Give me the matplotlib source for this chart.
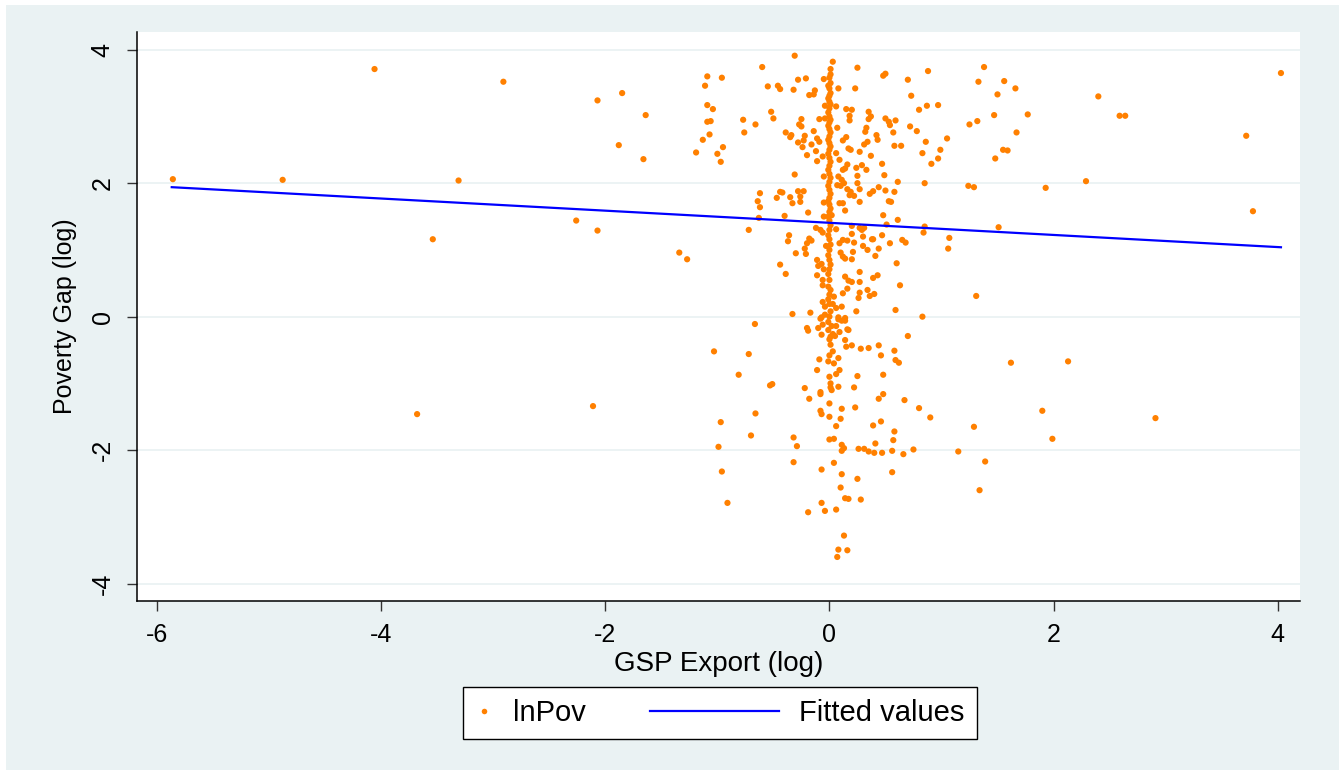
import numpy as np
import matplotlib
matplotlib.use("Agg")
import matplotlib.pyplot as plt
from matplotlib.lines import Line2D
from matplotlib.legend_handler import HandlerLine2D
from matplotlib.patches import Rectangle

plt.rcParams['font.family'] = ['Liberation Sans', 'DejaVu Sans']
plt.rcParams['axes.unicode_minus'] = False

# points, grouped by region (x = GSP export, y = poverty gap)
far_left_x = [-5.86, -4.88, -4.06, -2.91, -3.31, -3.54, -3.68, -1.85, -2.07, -1.64, -1.88, -1.66, -2.26, -2.07, -2.11]
far_left_y = [2.06, 2.05, 3.71, 3.52, 2.04, 1.16, -1.46, 3.35, 3.24, 3.02, 2.57, 2.36, 1.44, 1.29, -1.34]

mid_left_x = [-0.60, -1.09, -0.96, -1.11, -0.55, -0.46, -1.09, -1.04, -0.52, -0.50, -0.77, -0.66, -1.09, -1.06,
              -1.07, -1.13, -0.76, -0.95, -1.19, -1.00, -0.97, -0.62, -0.47, -0.64, -0.62, -0.63, -0.72, -1.34,
              -1.27, -0.44, -0.44, -0.665, -1.03, -0.72, -0.81, -0.53, -0.51, -0.66, -0.97, -0.70, -0.99, -0.96,
              -0.91, -0.44, -0.42, -0.39, -0.35, -0.34, -0.35, -0.40, -0.36, -0.37, -0.39]
mid_left_y = [3.74, 3.60, 3.58, 3.46, 3.45, 3.46, 3.17, 3.11, 3.07, 2.97, 2.95, 2.88, 2.92, 2.93,
              2.73, 2.65, 2.76, 2.54, 2.46, 2.44, 2.32, 1.85, 1.78, 1.73, 1.64, 1.48, 1.30, 0.96,
              0.86, 0.78, 1.87, -0.11, -0.52, -0.56, -0.87, -1.03, -1.01, -1.45, -1.58, -1.78, -1.95, -2.32,
              -2.79, 3.41, 1.86, 2.76, 2.69, 2.72, 1.79, 1.51, 1.22, 1.13, 0.64]

center_up_x = [-0.31, 0.03, 0.25, 0.01, 0.01, 0.50, 0.48, -0.28, -0.21, -0.05, -0.32, 0.08, 0.23, -0.13, -0.14,
               -0.18, -0.04, 0.06, 0.15, 0.20, 0.18, 0.18, 0.35, 0.37, 0.35, 0.50, 0.53, -0.25, -0.27, -0.25,
               -0.09, -0.04, 0.33, 0.32, -0.22, -0.23, -0.14, -0.11, -0.09, 0.07, 0.15, 0.12, 0.42, 0.43, -0.28,
               -0.24, -0.16, -0.12, 0.17, 0.19, 0.31, 0.34, 0.27, 0.37, -0.20, -0.11, -0.06, 0.06, 0.09, 0.47,
               0.16, 0.12, 0.14, 0.24, 0.29, 0.33, 0.25, 0.49, -0.31, -0.05, 0.08, 0.11, 0.13, 0.10, 0.07,
               0.25, 0.16, 0.19, 0.22, 0.18, 0.27, 0.27, 0.36, 0.39, 0.44, 0.50, 0.53, -0.28, -0.23, -0.26,
               -0.33, -0.26, -0.05, 0.09, 0.12, 0.14, -0.19, -0.05, 0.02, 0.48, 0.20, 0.27, 0.31, 0.29, 0.51,
               -0.12, -0.08, -0.06, 0.06, 0.20, 0.30, 0.38, 0.47, -0.18, -0.20, -0.16, -0.22, -0.21, -0.03,
               0.09, 0.12, 0.16, 0.10, 0.12, 0.14, 0.20, 0.22, 0.30, 0.21, 0.34, 0.44, 0.41, 0.39, -0.30,
               -0.11, -0.07, -0.05, -0.10, 0.27, 0.27, 0.20, 0.17, 0.43, 0.39, -0.11, 0.14, 0.16, 0.12, -0.06,
               -0.06, -0.01, 0.27, 0.26, 0.34, 0.36, 0.40, 0.04, -0.06, -0.04, 0.03, 0.06, 0.11, 0.24, -0.33,
               -0.17, -0.07, 0.08, 0.14]
center_up_y = [3.91, 3.82, 3.73, 3.71, 3.63, 3.64, 3.61, 3.55, 3.57, 3.56, 3.40, 3.42, 3.42, 3.39, 3.33,
               3.32, 3.16, 3.15, 3.11, 3.10, 3.01, 2.94, 3.07, 3.00, 2.96, 2.97, 2.92, 2.96, 2.88, 2.85,
               2.96, 2.97, 2.83, 2.77, 2.71, 2.64, 2.78, 2.67, 2.62, 2.83, 2.69, 2.64, 2.72, 2.65, 2.61,
               2.54, 2.58, 2.48, 2.52, 2.50, 2.58, 2.62, 2.47, 2.41, 2.42, 2.33, 2.40, 2.45, 2.35, 2.29,
               2.28, 2.20, 2.22, 2.23, 2.27, 2.20, 2.11, 2.12, 2.13, 2.10, 2.10, 2.05, 2.00, 1.96, 1.97,
               2.00, 1.91, 1.87, 1.81, 1.82, 1.91, 1.72, 1.84, 1.88, 1.94, 1.89, 1.73, 1.88, 1.88, 1.80,
               1.70, 1.72, 1.71, 1.70, 1.70, 1.59, 1.56, 1.50, 1.52, 1.52, 1.36, 1.33, 1.33, 1.30, 1.38,
               1.33, 1.30, 1.26, 1.31, 1.24, 1.20, 1.16, 1.22, 1.17, 1.10, 1.14, 1.02, 0.94, 1.06,
               1.10, 1.15, 1.14, 0.96, 0.90, 0.87, 0.86, 1.11, 1.06, 0.97, 1.00, 1.02, 0.91, 1.16, 0.95,
               0.85, 0.79, 0.71, 0.76, 0.67, 0.52, 0.52, 0.54, 0.62, 0.58, 0.62, 0.60, 0.42, 0.35, 0.55,
               0.47, 0.45, 0.36, 0.28, 0.40, 0.31, 0.34, 0.30, 0.22, 0.15, 0.19, 0.13, 0.15, 0.08, 0.04,
               0.06, -0.01, -0.01, -0.02]

center_low_x = [-0.08, -0.04, 0.11, 0.14, 0.08, -0.20, -0.19, -0.10, -0.06, -0.01, 0.02, 0.06, 0.09, 0.01, 0.05,
                0.16, 0.17, -0.07, 0.03, 0.14, 0.15, 0.20, 0.28, 0.35, 0.44, 0.46, 0.03, -0.09, -0.11, 0.04,
                0.08, 0.09, 0.06, 0.25, 0.48, -0.22, -0.18, -0.08, -0.08, 0.01, 0.02, 0.08, 0.22, 0.48, 0.44,
                -0.08, -0.07, 0.11, 0.23, 0.10, 0.06, 0.39, 0.46, -0.32, -0.29, 0.04, 0.11, 0.13, 0.11, 0.26,
                0.31, 0.35, 0.40, 0.47, 0.41, -0.32, 0.04, -0.07, 0.11, 0.25, 0.10, 0.14, 0.17, 0.28, -0.07,
                -0.19, -0.04, 0.06, 0.13, 0.08, 0.16, 0.07]
center_low_y = [-0.03, 0.03, -0.06, -0.06, -0.04, -0.17, -0.21, -0.17, -0.12, -0.20, -0.14, -0.14, -0.23, -0.30, -0.29,
                -0.19, -0.20, -0.27, -0.26, -0.35, -0.45, -0.43, -0.48, -0.47, -0.43, -0.58, -0.52, -0.64, -0.80, -0.70,
                -0.62, -0.80, -0.86, -0.89, -0.87, -1.07, -1.23, -1.13, -1.16, -1.06, -1.10, -1.05, -1.06, -1.16, -1.23,
                -1.41, -1.46, -1.38, -1.36, -1.53, -1.64, -1.63, -1.57, -1.81, -1.94, -1.83, -1.92, -1.97, -2.01, -1.98,
                -1.98, -2.02, -2.04, -2.04, -1.90, -2.18, -2.19, -2.29, -2.36, -2.43, -2.56, -2.72, -2.73, -2.74, -2.79,
                -2.93, -2.91, -2.89, -3.28, -3.49, -3.50, -3.60]

# the thick column of observations sitting at an export value of about zero
column_x = [0.00, 0.01, -0.01, 0.00, 0.01, 0.00, -0.01, 0.00, 0.01, 0.00, -0.01, 0.00, 0.01, 0.00, -0.01,
            0.00, 0.01, 0.00, -0.01, 0.00, 0.01, 0.00, -0.01, 0.00, 0.01, 0.00, -0.01, 0.00, 0.01, 0.00,
            -0.01, 0.00, 0.01, 0.00, -0.01, 0.00, 0.01, 0.00, -0.01, 0.00, 0.01, 0.00, -0.01, 0.00, 0.01,
            0.00, -0.01, 0.00, 0.01, 0.00, -0.01, 0.00, 0.01, 0.00, -0.01, 0.00, 0.01, 0.00, -0.01, 0.00,
            0.01, 0.00, -0.01, 0.00, 0.01, 0.00, 0.00, 0.00]
column_y = [3.58, 3.50, 3.46, 3.42, 3.35, 3.31, 3.27, 3.22, 3.18, 3.12, 3.06, 3.00, 2.95, 2.91, 2.86,
            2.81, 2.76, 2.70, 2.65, 2.60, 2.55, 2.50, 2.44, 2.38, 2.32, 2.26, 2.20, 2.14, 2.08, 2.02,
            1.96, 1.90, 1.84, 1.78, 1.73, 1.68, 1.62, 1.57, 1.50, 1.44, 1.37, 1.30, 1.22, 1.16, 1.08,
            1.00, 0.92, 0.85, 0.78, 0.71, 0.64, 0.55, 0.40, 0.33, 0.26, 0.19, 0.08, 0.00, -0.08, -0.34,
            -0.42, -0.58, -0.67, -0.90, -1.00, -1.30, -1.50, -1.84]

right_x = [4.03, 2.40, 2.59, 2.64, 3.72, 3.78, 2.29, 1.93, 1.38, 0.88, 0.70, 1.33, 1.56, 1.66, 1.50, 0.73,
           0.80, 0.87, 0.97, 0.59, 0.54, 0.57, 0.72, 0.78, 1.25, 1.32, 1.47, 1.77, 1.67, 1.05, 0.86, 0.58,
           0.64, 0.99, 0.83, 0.97, 0.91, 1.55, 1.59, 1.48, 0.61, 0.85, 1.24, 1.29, 0.58, 0.55, 0.61, 0.85,
           0.84, 1.51, 0.65, 0.68, 1.07, 1.06, 0.54, 0.60, 0.63, 1.31, 0.59, 0.83, 0.70, 0.58, 0.59, 0.62,
           1.62, 2.13, 0.67, 0.80, 0.90, 1.90, 2.91, 1.29, 0.58, 0.57, 1.99, 0.56, 0.66, 0.75, 1.15, 1.39,
           0.56, 1.34]
right_y = [3.65, 3.30, 3.01, 3.01, 2.71, 1.58, 2.03, 1.93, 3.74, 3.68, 3.55, 3.52, 3.53, 3.42, 3.33, 3.31,
           3.10, 3.16, 3.17, 2.94, 2.87, 2.76, 2.85, 2.78, 2.88, 2.93, 3.02, 3.03, 2.76, 2.67, 2.62, 2.56,
           2.56, 2.50, 2.45, 2.37, 2.29, 2.50, 2.49, 2.37, 2.02, 2.00, 1.96, 1.94, 1.87, 1.72, 1.45, 1.35,
           1.26, 1.34, 1.15, 1.11, 1.18, 1.02, 1.10, 0.80, 0.47, 0.31, 0.10, 0.00, -0.29, -0.51, -0.65, -0.69,
           -0.69, -0.67, -1.25, -1.37, -1.51, -1.41, -1.52, -1.65, -1.72, -1.85, -1.83, -2.01, -2.06, -1.99, -2.02, -2.17,
           -2.33, -2.60]

# ends of the fitted regression line
fit_x = [-5.87, 4.03]
fit_y = [1.94, 1.04]

x_ticks = [-6, -4, -2, 0, 2, 4]
y_ticks = [-4, -2, 0, 2, 4]

gsp = far_left_x + mid_left_x + center_up_x + center_low_x + column_x + right_x
pov = far_left_y + mid_left_y + center_up_y + center_low_y + column_y + right_y

bg = '#EAF2F3'
orange = '#FF8000'
blue = '#0000FF'

W, H = 1339, 770
fig = plt.figure(figsize=(W / 100, H / 100), dpi=100)
fig.patch.set_facecolor('white')
fig.patches.append(Rectangle((6 / W, 0), 1 - 6 / W, 1 - 5 / H, transform=fig.transFigure,
                             facecolor=bg, edgecolor='none', zorder=-10))

ax = fig.add_axes([137 / W, 1 - 601 / H, (1300 - 137) / W, (601 - 32) / H])
ax.set_facecolor('white')

ax.scatter(gsp, pov, s=20, color=orange, edgecolors='none', zorder=3)
ax.plot(fit_x, fit_y, color=blue, lw=1.6, zorder=4)

ax.set_xlim(-6.18, 4.20)
ax.set_ylim(-4.26, 4.265)
ax.set_xticks(x_ticks)
ax.set_yticks(y_ticks)
ax.yaxis.grid(True, color=bg, lw=1.3)
ax.set_axisbelow(True)

for side in ['top', 'right']:
    ax.spines[side].set_visible(False)
for side in ['left', 'bottom']:
    ax.spines[side].set_linewidth(1.1)
    ax.spines[side].set_color('black')

ax.tick_params(axis='both', direction='out', length=7, width=1.0, color='#333333', labelsize=18)
ax.tick_params(axis='x', pad=9)
ax.tick_params(axis='y', pad=9, labelrotation=90)
for lab in ax.get_yticklabels():
    lab.set_va('center')

ax.set_xlabel('GSP Export (log)', fontsize=20, labelpad=3)
ax.set_ylabel('Poverty Gap (log)', fontsize=18, labelpad=10)


class SmallHandle(HandlerLine2D):
    # narrower handle box for the marker entry
    def legend_artist(self, legend, orig_handle, fontsize, handlebox):
        handlebox.width = 0.6 * fontsize
        return super().legend_artist(legend, orig_handle, fontsize, handlebox)


dot = Line2D([], [], ls='none', marker='o', markersize=4, color=orange, markeredgewidth=0)
fit_line = Line2D([], [], color=blue, lw=1.6)
leg = fig.legend([dot, fit_line], ['lnPov', 'Fitted values'], loc='center',
                 bbox_to_anchor=(720 / W, 1 - 713 / H), ncol=2, fontsize=21,
                 frameon=True, fancybox=False, framealpha=1, edgecolor='black',
                 handlelength=4.4, handletextpad=0.7, columnspacing=2.2, borderpad=0.42,
                 handler_map={dot: SmallHandle()})
leg.get_frame().set_linewidth(1.0)

fig.savefig('out.png', dpi=100, facecolor=fig.get_facecolor())
